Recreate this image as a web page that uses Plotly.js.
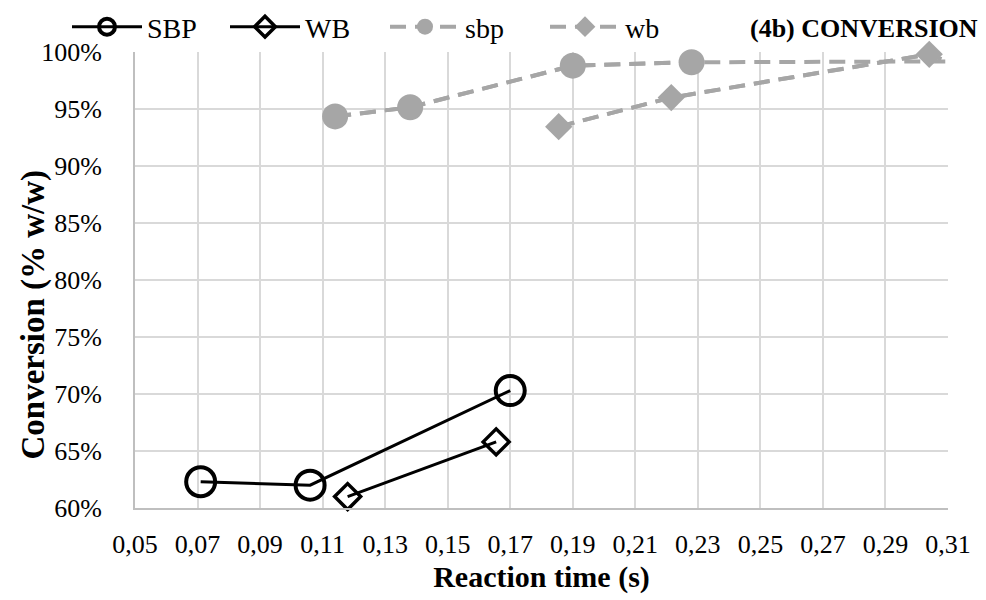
<!DOCTYPE html>
<html>
<head>
<meta charset="utf-8">
<script src="https://cdn.plot.ly/plotly-3.0.1.min.js"></script>
<style>html,body{margin:0;padding:0;background:#fff;}#chart{width:986px;height:600px;}</style>
</head>
<body>
<div id="chart"></div>
<script>
// Data (x = reaction time in s, y = conversion in % w/w)
const SBP_x = [0.071, 0.106, 0.170];
const SBP_y = [62.3, 62.0, 70.3];
const WB_x = [0.118, 0.1655];
const WB_y = [61.0, 65.8];
const sbp_x = [0.114, 0.138, 0.190, 0.228, 0.34];
const sbp_y = [94.35, 95.15, 98.8, 99.1, 99.2];
const wb_x = [0.1855, 0.2215, 0.304, 0.33];
const wb_y = [93.45, 96.0, 99.8, 97.0];
const xTicks = [0.05, 0.07, 0.09, 0.11, 0.13, 0.15, 0.17, 0.19, 0.21, 0.23, 0.25, 0.27, 0.29, 0.31];
const yTicks = [60, 65, 70, 75, 80, 85, 90, 95, 100];
const X_MAX = 0.31;

const FONT = 'Liberation Serif';
const GRAY = '#a6a6a6';
const W = 986, H = 600;

function inRange(xs, ys) {
  const ox = [], oy = [];
  xs.forEach((v, i) => { if (v <= X_MAX) { ox.push(v); oy.push(ys[i]); } });
  return [ox, oy];
}

const [sbpXi, sbpYi] = inRange(sbp_x, sbp_y);
const [wbXi, wbYi] = inRange(wb_x, wb_y);
const grayDash = '16px,9px';

const traces = [
  {x: sbp_x, y: sbp_y, mode: 'lines', showlegend: false, hoverinfo: 'skip', cliponaxis: true,
   line: {color: GRAY, width: 4, dash: grayDash}},
  {x: wb_x, y: wb_y, mode: 'lines', showlegend: false, hoverinfo: 'skip', cliponaxis: true,
   line: {color: GRAY, width: 4, dash: grayDash}},
  {x: SBP_x, y: SBP_y, name: 'SBP', legend: 'legend', mode: 'lines+markers', cliponaxis: false,
   line: {color: '#000', width: 3},
   marker: {symbol: 'circle-open', size: 29, color: '#000', line: {width: 4, color: '#000'}}},
  {x: WB_x, y: WB_y, name: 'WB', legend: 'legend2', mode: 'lines+markers', cliponaxis: false,
   line: {color: '#000', width: 3},
   marker: {symbol: 'diamond-open', size: 20, color: '#000', line: {width: 3.5, color: '#000'}}},
  {x: sbpXi, y: sbpYi, name: 'sbp', legend: 'legend3', mode: 'lines+markers', cliponaxis: false,
   line: {color: GRAY, width: 4, dash: grayDash},
   marker: {symbol: 'circle', size: 26, color: GRAY}},
  {x: wbXi, y: wbYi, name: 'wb', legend: 'legend4', mode: 'lines+markers', cliponaxis: false,
   line: {color: GRAY, width: 4, dash: grayDash},
   marker: {symbol: 'diamond', size: 21, color: GRAY}}
];

function leg(leftPx) {
  return {orientation: 'h', xref: 'container', yref: 'container',
          x: (leftPx - 5) / W, xanchor: 'left', y: 1 - 27 / H, yanchor: 'middle',
          font: {family: FONT, size: 28, color: '#000'}, bgcolor: 'rgba(0,0,0,0)',
          borderwidth: 0, itemwidth: 70};
}

const layout = {
  width: W, height: H,
  paper_bgcolor: '#fff', plot_bgcolor: '#fff',
  margin: {l: 135, r: 38, t: 46, b: 92},
  font: {family: FONT, size: 21, color: '#000'},
  showlegend: true,
  legend: leg(72), legend2: leg(230), legend3: leg(390), legend4: leg(550),
  xaxis: {
    range: [0.05, X_MAX], tickmode: 'array', tickvals: xTicks,
    ticktext: xTicks.map(v => v.toFixed(2).replace('.', ',')),
    showgrid: true, gridcolor: '#d9d9d9', gridwidth: 2,
    showline: true, linecolor: '#bfbfbf', linewidth: 2,
    zeroline: false, ticks: '', ticklabelstandoff: 12,
    tickfont: {family: FONT, size: 26, color: '#000'},
    title: {text: '<b>Reaction time (s)</b>', font: {family: FONT, size: 30, color: '#000'}, standoff: 8}
  },
  yaxis: {
    range: [60, 100], tickmode: 'array', tickvals: yTicks,
    ticktext: yTicks.map(v => v + '%'),
    showgrid: true, gridcolor: '#d9d9d9', gridwidth: 2,
    showline: true, linecolor: '#bfbfbf', linewidth: 2,
    zeroline: false, ticks: '', ticklabelstandoff: 26,
    tickfont: {family: FONT, size: 26, color: '#000'}
  },
  annotations: [
    {text: '<b>(4b) CONVERSION</b>', xref: 'paper', yref: 'paper',
     x: (980 - 135) / 813, xanchor: 'right', y: (508 - 22) / 462, yanchor: 'middle',
     showarrow: false, font: {family: FONT, size: 26, color: '#000'}},
    {text: '<b>Conversion (% w/w)</b>', xref: 'paper', yref: 'paper', textangle: -90,
     x: (34 - 135) / 813, xanchor: 'center', y: (508 - 312) / 462, yanchor: 'middle',
     showarrow: false, font: {family: FONT, size: 33, color: '#000'}}
  ]
};

Plotly.newPlot('chart', traces, layout, {displayModeBar: false, staticPlot: true});
</script>
</body>
</html>
